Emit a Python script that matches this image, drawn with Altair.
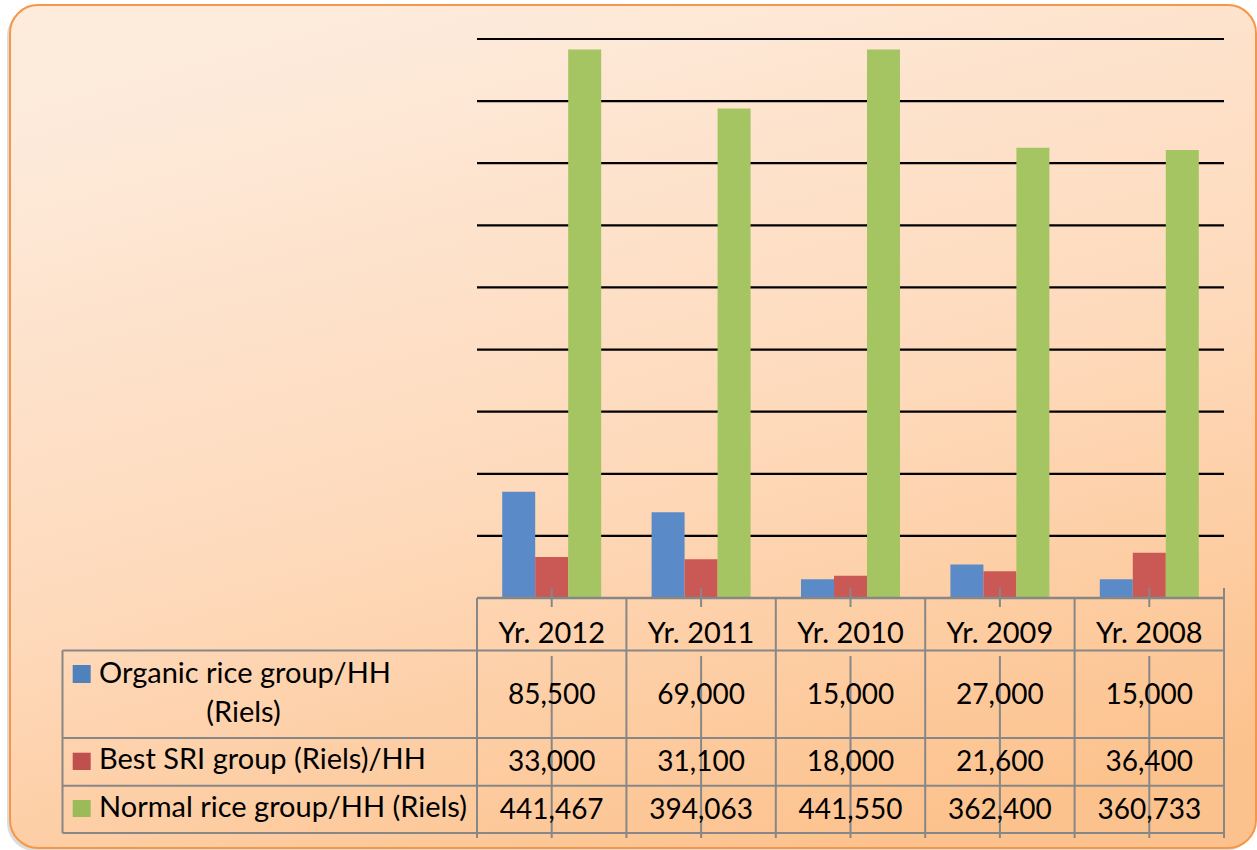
import altair as alt
import pandas as pd

# ---------------- data ----------------
categories = ["Yr. 2012", "Yr. 2011", "Yr. 2010", "Yr. 2009", "Yr. 2008"]
series = ["Organic rice group/HH (Riels)", "Best SRI group (Riels)/HH", "Normal rice group/HH (Riels)"]
organic = [85500, 69000, 15000, 27000, 15000]
best_sri = [33000, 31100, 18000, 21600, 36400]
normal = [441467, 394063, 441550, 362400, 360733]
grid_values = [50000, 100000, 150000, 200000, 250000, 300000, 350000, 400000, 450000]

bar_colors = ["#5A8BC8", "#CA5855", "#A5C462"]
legend_colors = ["#4F81BD", "#C0504D", "#9BBB59"]

rows = []
for s, vals in zip(series, [organic, best_sri, normal]):
    for c, v in zip(categories, vals):
        rows.append({"cat": c, "series": s, "value": v})
df = pd.DataFrame(rows)
cat_df = pd.DataFrame({"cat": categories})
grid_df = pd.DataFrame({"v": grid_values})
one = pd.DataFrame({"a": [0]})

# ---------------- layout (plot area at 477,39 of size 747x559) ----------------
W, H = 747, 559
FONT = "Lato"
FS_NUM = 28
FS_TXT = 29
GRAY = "#878787"

xscale = alt.Scale(type="band", domain=categories, paddingInner=0, paddingOuter=0)
yscale = alt.Scale(domain=[0, 450000], nice=False, zero=True)

def X(bp=0.5):
    return alt.X("cat:N", scale=xscale, sort=categories, axis=None, title=None, bandPosition=bp)

# background panel with shadow and gradient
shadow = alt.Chart(one).mark_rect(cornerRadius=28, color="#9A9A9A", opacity=0.35).encode(
    x=alt.value(-470), x2=alt.value(776), y=alt.value(-31), y2=alt.value(812))
panel = alt.Chart(one).mark_rect(
    cornerRadius=28, stroke="#F79646", strokeWidth=2,
    color=alt.Gradient(gradient="linear",
                       stops=[alt.GradientStop(offset=0, color="#FDEBDC"),
                              alt.GradientStop(offset=0.55, color="#FED9BA"),
                              alt.GradientStop(offset=1, color="#FCC28D")],
                       x1=0.3, x2=0.7, y1=0, y2=1)
).encode(x=alt.value(-467), x2=alt.value(779), y=alt.value(-34), y2=alt.value(809))

# gridlines
grid = alt.Chart(grid_df).mark_rule(color="black", strokeWidth=2.2).encode(
    y=alt.Y("v:Q", scale=yscale, axis=None), x=alt.value(0), x2=alt.value(W))

# bars
bars = alt.Chart(df).mark_bar().encode(
    x=X(),
    xOffset=alt.XOffset("series:N", sort=series,
                        scale=alt.Scale(domain=series, paddingInner=0, paddingOuter=0.764)),
    y=alt.Y("value:Q", scale=yscale, axis=None),
    color=alt.Color("series:N", scale=alt.Scale(domain=series, range=bar_colors), legend=None),
)

# table lines
def hline(y, x0, x1, w=2, color=GRAY):
    return alt.Chart(one).mark_rule(color=color, strokeWidth=w).encode(
        x=alt.value(x0), x2=alt.value(x1), y=alt.value(y))

baseline = hline(559, 0, W, w=2.5)
h1 = hline(611.5, -414.5, W)
h2 = hline(699, -414.5, W)
h3 = hline(746.7, -414.5, W)
h4 = hline(794, -414.5, W)
left_edge = alt.Chart(one).mark_rule(color=GRAY, strokeWidth=2).encode(
    x=alt.value(-414.5), y=alt.value(611.5), y2=alt.value(794))

vbound = alt.Chart(cat_df).mark_rule(color=GRAY, strokeWidth=2).encode(
    x=X(0), y=alt.value(559), y2=alt.value(799))
vright = alt.Chart(cat_df).transform_filter(alt.datum.cat == categories[-1]).mark_rule(
    color=GRAY, strokeWidth=2).encode(x=X(1), y=alt.value(549), y2=alt.value(799))
vmid1 = alt.Chart(cat_df).mark_rule(color=GRAY, strokeWidth=2).encode(
    x=X(0.5), y=alt.value(549), y2=alt.value(568))
vmid2 = alt.Chart(cat_df).mark_rule(color=GRAY, strokeWidth=2).encode(
    x=X(0.5), y=alt.value(617), y2=alt.value(799))

# header labels
header = alt.Chart(cat_df).mark_text(font=FONT, fontSize=FS_TXT, color="black",
                                     baseline="alphabetic", align="center").encode(
    x=X(0.5), y=alt.value(603.7), text="cat:N")

# value rows
value_baselines = [665, 731.7, 780]
value_layers = []
for s, yb in zip(series, value_baselines):
    value_layers.append(
        alt.Chart(df).transform_filter(alt.datum.series == s).mark_text(
            font=FONT, fontSize=FS_NUM, color="black", baseline="alphabetic", align="center"
        ).encode(x=X(0.5), y=alt.value(yb), text=alt.Text("value:Q", format=","))
    )

# legend column
sq_y = [(626, 644), (713.7, 731), (761, 778)]
legend_layers = []
for s, col, (y0, y1) in zip(series, legend_colors, sq_y):
    legend_layers.append(
        alt.Chart(one).mark_rect(color=col).encode(
            x=alt.value(-404.3), x2=alt.value(-386.3), y=alt.value(y0), y2=alt.value(y1)))

org_label = series[0].split(" (")
leg_text = [
    alt.Chart(one).mark_text(font=FONT, fontSize=FS_TXT, color="black", baseline="alphabetic",
                             align="left").encode(
        x=alt.value(-378), y=alt.value(643.7), text=alt.value(org_label[0])),
    alt.Chart(one).mark_text(font=FONT, fontSize=FS_TXT, color="black", baseline="alphabetic",
                             align="center").encode(
        x=alt.value(-233.5), y=alt.value(682.7), text=alt.value("(" + org_label[1])),
    alt.Chart(one).mark_text(font=FONT, fontSize=FS_TXT, color="black", baseline="alphabetic",
                             align="left").encode(
        x=alt.value(-378), y=alt.value(730), text=alt.value(series[1])),
    alt.Chart(one).mark_text(font=FONT, fontSize=FS_TXT, color="black", baseline="alphabetic",
                             align="left").encode(
        x=alt.value(-378), y=alt.value(778.3), text=alt.value(series[2])),
]

chart = alt.layer(
    shadow, panel, grid, bars,
    h1, h2, h3, h4, left_edge, vbound, vright, vmid1, vmid2, baseline,
    header, *value_layers, *legend_layers, *leg_text,
).properties(
    width=W, height=H,
    autosize=alt.AutoSizeParams(type="none"),
    padding={"left": 477, "top": 39, "right": 33, "bottom": 252},
    background="white",
).configure_view(stroke=None)

chart.save("out.html", embed_options={"renderer": "svg", "actions": False})
